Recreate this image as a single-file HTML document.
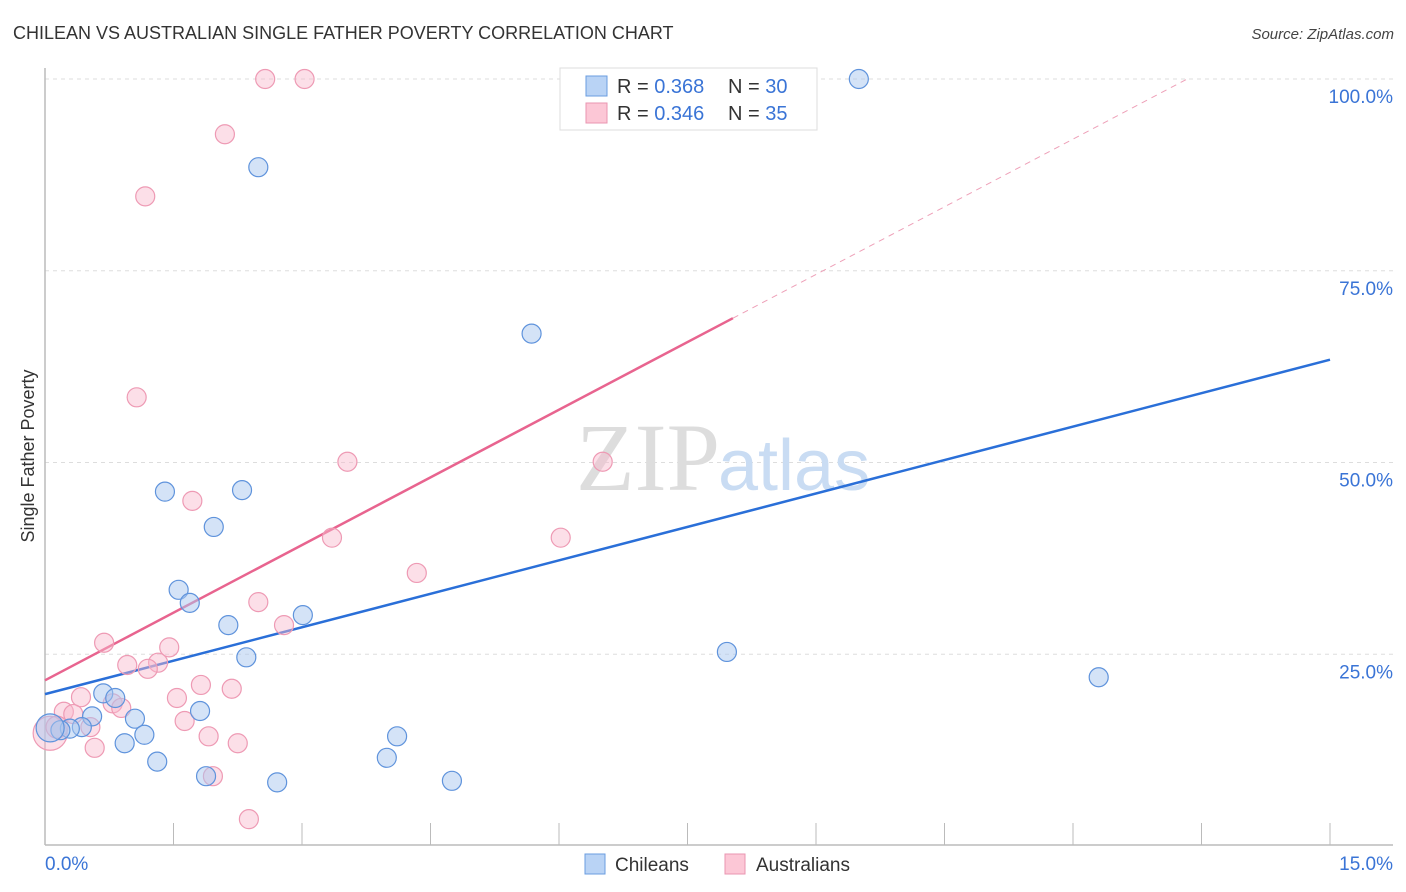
<!DOCTYPE html>
<html><head><meta charset="utf-8">
<style>
body{margin:0;background:#fff;font-family:"Liberation Sans",sans-serif;}
svg{display:block}
</style></head>
<body>
<svg id="chart" width="1406" height="892" xmlns="http://www.w3.org/2000/svg">
<text x="13" y="39" font-size="18" fill="#333">CHILEAN VS AUSTRALIAN SINGLE FATHER POVERTY CORRELATION CHART</text>
<text x="1394" y="39" font-size="15" fill="#444" font-style="italic" text-anchor="end">Source: ZipAtlas.com</text>
<text transform="translate(34,456) rotate(-90)" font-size="18" fill="#333" text-anchor="middle">Single Father Poverty</text>
<g id="grid"></g>
<text x="720" y="490" font-size="96" font-family="Liberation Serif,serif" fill="#ddd" text-anchor="end">ZIP</text>
<text x="718" y="490" font-size="72" fill="#c9dcf3">atlas</text>
<g id="trend"></g>
<g id="pts"></g>
<g>
<rect x="560" y="68" width="257" height="62" fill="#fff" stroke="#ddd"/>
<rect x="586" y="76" width="21" height="20" fill="#b9d3f5" stroke="#6a9de0"/>
<rect x="586" y="103" width="21" height="20" fill="#fcc7d6" stroke="#ea95b0"/>
<text x="617" y="93" font-size="20" fill="#333">R = <tspan fill="#3a74d6">0.368</tspan></text>
<text x="728" y="93" font-size="20" fill="#333">N = <tspan fill="#3a74d6">30</tspan></text>
<text x="617" y="120" font-size="20" fill="#333">R = <tspan fill="#3a74d6">0.346</tspan></text>
<text x="728" y="120" font-size="20" fill="#333">N = <tspan fill="#3a74d6">35</tspan></text>
</g>
<g>
<rect x="585" y="854" width="20" height="20" fill="#b9d3f5" stroke="#6a9de0"/>
<text x="615" y="871" font-size="19" fill="#333">Chileans</text>
<rect x="725" y="854" width="20" height="20" fill="#fcc7d6" stroke="#ea95b0"/>
<text x="756" y="871" font-size="19" fill="#333">Australians</text>
</g>
</svg>
<script>
const yTicks=[25,50,75,100];
const yTickLabels=["25.0%","50.0%","75.0%","100.0%"];
const xTicks=[0,1.5,3,4.5,6,7.5,9,10.5,12,13.5,15];
const xTickLabels=["0.0%","15.0%"];
const chileX=[9.50,2.49,5.68,1.40,2.30,1.97,1.56,1.69,2.14,3.01,2.35,7.96,12.30,0.68,0.82,0.55,1.05,0.43,0.29,0.18,0.06,1.81,1.16,0.93,4.11,1.31,3.99,1.88,2.71,4.75];
const chileY=[100,88.5,66.8,46.2,46.4,41.6,33.4,31.7,28.8,30.1,24.6,25.3,22.0,19.9,19.3,16.9,16.6,15.5,15.3,15.1,15.4,17.6,14.5,13.4,14.3,11.0,11.5,9.1,8.3,8.5];
const ausX=[2.57,3.03,2.10,1.17,1.07,3.53,6.51,1.72,3.35,6.02,4.34,2.49,2.79,0.69,1.45,0.96,1.32,1.20,1.82,1.54,2.18,0.42,0.79,0.89,0.22,0.33,0.53,1.63,1.91,2.25,0.58,1.96,2.38,0.06,0.14];
const ausY=[100,100,92.8,84.7,58.5,50.1,50.1,45.0,40.2,40.2,35.6,31.8,28.8,26.5,25.9,23.6,23.9,23.1,21.0,19.3,20.5,19.4,18.6,18.0,17.5,17.2,15.5,16.3,14.3,13.4,12.8,9.1,3.5,14.7,15.5];
const chileTrend=[19.8,63.4];   // y at x=0 and x=15
const ausTrend=[21.6,5.88];     // intercept, slope
const ausSolidEnd=8.03;

const NS="http://www.w3.org/2000/svg";
const X=v=>45+v/15*1285;
const Y=v=>846-v*7.67;
function mk(tag,attrs,parent){const e=document.createElementNS(NS,tag);for(const k in attrs)e.setAttribute(k,attrs[k]);parent.appendChild(e);return e;}
const grid=document.getElementById('grid');
yTicks.forEach((t,i)=>{
  const l=mk('line',{x1:45,x2:1393,y1:Y(t),y2:Y(t),stroke:'#ddd','stroke-dasharray':'4,4'},grid);
  
  
  const tx=mk('text',{x:1393,y:Y(t)+24,'font-size':19,fill:'#3a74d6','text-anchor':'end'},grid);
  tx.textContent=yTickLabels[i];
  
  
});
xTicks.forEach(t=>{
  const l=mk('line',{x1:X(t),x2:X(t),y1:823,y2:845,stroke:'#bbb'},grid);
  
  
});
let a=mk('line',{x1:45,x2:1393,y1:845,y2:845,stroke:'#bbb','stroke-width':1.5},grid);


a=mk('line',{x1:45,x2:45,y1:68,y2:845,stroke:'#bbb','stroke-width':1.5},grid);


let xl=mk('text',{x:45,y:870,'font-size':19,fill:'#3a74d6'},grid);
xl.textContent=xTickLabels[0];


xl=mk('text',{x:1393,y:870,'font-size':19,fill:'#3a74d6','text-anchor':'end'},grid);
xl.textContent=xTickLabels[1];



const pts=document.getElementById('pts');
ausX.forEach((x,i)=>{
  const r=(i>=33)?(i==33?17:11):9.5;
  const c=mk('circle',{cx:X(x),cy:Y(ausY[i]),r:r,fill:'#f9b9cc','fill-opacity':0.45,stroke:'#ee9ab4','stroke-width':1.2},pts);
  
  
});
chileX.forEach((x,i)=>{
  const r=(i==20)?14:9.5;
  const c=mk('circle',{cx:X(x),cy:Y(chileY[i]),r:r,fill:'#a9c8f0','fill-opacity':0.5,stroke:'#5f93dc','stroke-width':1.2},pts);
  
  
});
const tr=document.getElementById('trend');
let t=mk('line',{x1:X(0),y1:Y(chileTrend[0]),x2:X(15),y2:Y(chileTrend[1]),stroke:'#2a6fd8','stroke-width':2.5},tr);


t=mk('line',{x1:X(0),y1:Y(ausTrend[0]),x2:X(ausSolidEnd),y2:Y(ausTrend[0]+ausTrend[1]*ausSolidEnd),stroke:'#e8648f','stroke-width':2.5},tr);


const xEnd=(100-ausTrend[0])/ausTrend[1];
t=mk('line',{x1:X(ausSolidEnd),y1:Y(ausTrend[0]+ausTrend[1]*ausSolidEnd),x2:X(xEnd),y2:Y(100),stroke:'#eea0b8','stroke-width':1,'stroke-dasharray':'6,5'},tr);


</script>
</body></html>
